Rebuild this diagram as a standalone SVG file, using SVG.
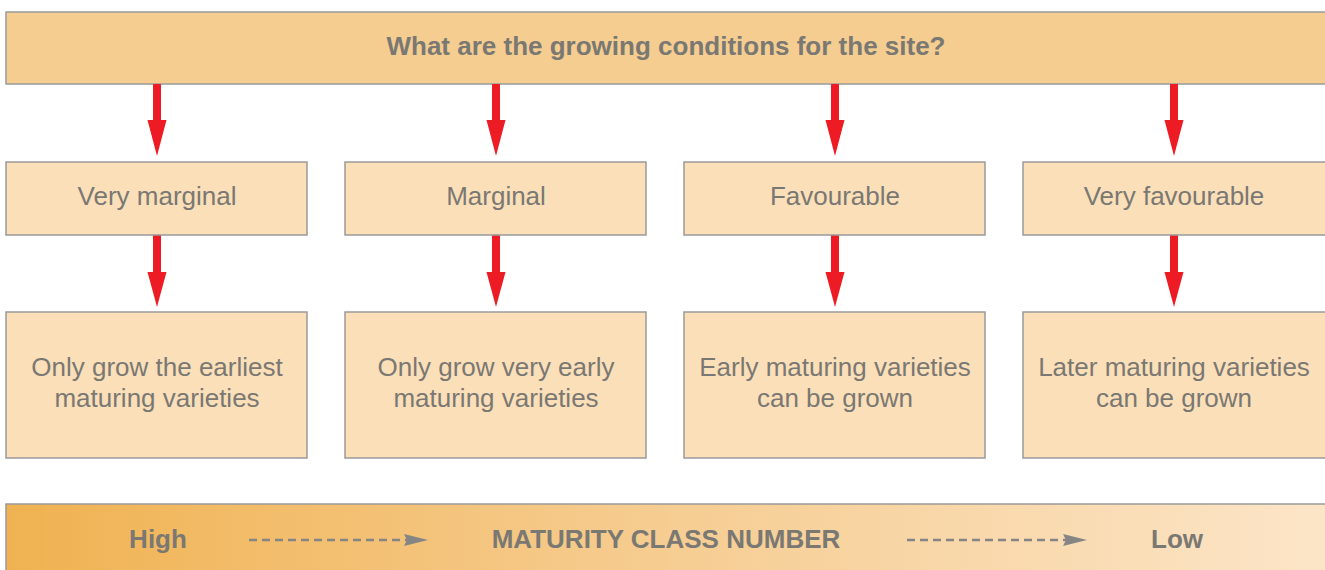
<svg xmlns="http://www.w3.org/2000/svg" width="1325" height="570" viewBox="0 0 1325 570">
<style>
.box{fill:#FBDFB8;stroke:#9a9a9a;stroke-width:1.5}
.top{fill:#F5CD90;stroke:#9a9a9a;stroke-width:1.5}
.t{font-family:"Liberation Sans",Arial,sans-serif;font-size:26px;fill:#7a7873;text-anchor:middle}
.b{font-family:"Liberation Sans",Arial,sans-serif;font-size:26px;font-weight:bold;fill:#7a7873;text-anchor:middle}
.dash{stroke:#858585;stroke-width:2.5;stroke-dasharray:8,5;fill:none}
</style>
<defs>
<linearGradient id="g" x1="0" y1="0" x2="1" y2="0">
<stop offset="0" stop-color="#F0B251"/>
<stop offset="0.5" stop-color="#F6CD92"/>
<stop offset="1" stop-color="#FCE5C8"/>
</linearGradient>
</defs>
<g id="question">
<rect class="top" x="6" y="12" width="1330" height="72"/>
<text class="b" x="666" y="55">What are the growing conditions for the site?</text>
</g>
<g id="connectors">
<g fill="#ED1C24">
<rect x="153" y="84" width="8" height="40"/><path d="M147.5,120 L166.5,120 L157,156 Z"/>
<rect x="492" y="84" width="8" height="40"/><path d="M486.5,120 L505.5,120 L496,156 Z"/>
<rect x="831" y="84" width="8" height="40"/><path d="M825.5,120 L844.5,120 L835,156 Z"/>
<rect x="1170" y="84" width="8" height="40"/><path d="M1164.5,120 L1183.5,120 L1174,156 Z"/>
<rect x="153" y="235" width="8" height="41"/><path d="M147.5,272 L166.5,272 L157,307 Z"/>
<rect x="492" y="235" width="8" height="41"/><path d="M486.5,272 L505.5,272 L496,307 Z"/>
<rect x="831" y="235" width="8" height="41"/><path d="M825.5,272 L844.5,272 L835,307 Z"/>
<rect x="1170" y="235" width="8" height="41"/><path d="M1164.5,272 L1183.5,272 L1174,307 Z"/>
</g>
</g>
<g id="very-marginal"><rect class="box" x="6" y="162" width="301" height="73"/><text class="t" x="157" y="205">Very marginal</text></g>
<g id="marginal"><rect class="box" x="345" y="162" width="301" height="73"/><text class="t" x="496" y="205">Marginal</text></g>
<g id="favourable"><rect class="box" x="684" y="162" width="301" height="73"/><text class="t" x="835" y="205">Favourable</text></g>
<g id="very-favourable"><rect class="box" x="1023" y="162" width="330" height="73"/><text class="t" x="1174" y="205">Very favourable</text></g>
<g id="earliest"><rect class="box" x="6" y="312" width="301" height="146"/><text class="t" x="157" y="376">Only grow the earliest</text><text class="t" x="157" y="407">maturing varieties</text></g>
<g id="very-early"><rect class="box" x="345" y="312" width="301" height="146"/><text class="t" x="496" y="376">Only grow very early</text><text class="t" x="496" y="407">maturing varieties</text></g>
<g id="early"><rect class="box" x="684" y="312" width="301" height="146"/><text class="t" x="835" y="376">Early maturing varieties</text><text class="t" x="835" y="407">can be grown</text></g>
<g id="later"><rect class="box" x="1023" y="312" width="330" height="146"/><text class="t" x="1174" y="376">Later maturing varieties</text><text class="t" x="1174" y="407">can be grown</text></g>
<g id="maturity-bar">
<rect x="6" y="504" width="1330" height="80" fill="url(#g)" stroke="#9a9a9a" stroke-width="1.5"/>
<text class="b" x="158" y="548">High</text>
<text class="b" x="666" y="548">MATURITY CLASS NUMBER</text>
<text class="b" x="1177" y="548">Low</text>
<line class="dash" x1="249" y1="540" x2="410" y2="540"/>
<path d="M404,534 L428,540 L404,546 L407,540 Z" fill="#858585"/>
<line class="dash" x1="907" y1="540" x2="1069" y2="540"/>
<path d="M1063,534 L1087,540 L1063,546 L1066,540 Z" fill="#858585"/>
</g>
</svg>
